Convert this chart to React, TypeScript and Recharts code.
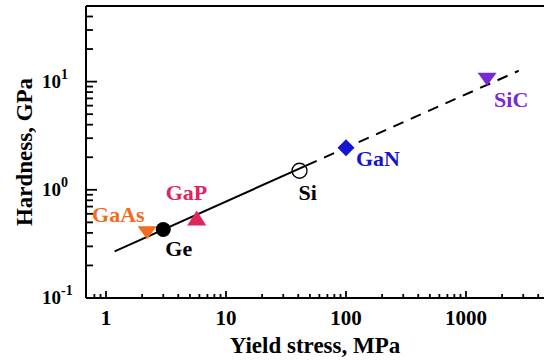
import { ComposedChart, XAxis, YAxis, Scatter, Line, ReferenceLine } from "recharts"

// measured points
const materials = ["GaAs", "Ge", "GaP", "Si", "GaN", "SiC"]
const yieldStress = [2.2, 3, 5.7, 41, 100, 1500]
const hardness = [0.4, 0.43, 0.55, 1.5, 2.45, 10.5]

// fitted trend (solid part, then dashed extrapolation)
const fitSolidX = [1.18, 57]
const fitSolidY = [0.27, 1.85]
const fitDashedX = [57, 2750]
const fitDashedY = [1.85, 12.6]

const xMajorTicks = [1, 10, 100, 1000]
const xMinorTicks = [0.8, 0.9, 2, 3, 4, 5, 6, 7, 8, 9, 20, 30, 40, 50, 60, 70, 80, 90, 200, 300, 400, 500, 600, 700, 800, 900, 2000, 3000, 4000]
const yMajorTicks = [0.1, 1, 10]
const yMajorLabels = ["-1", "0", "1"]
const yMinorTicks = [0.2, 0.3, 0.4, 0.5, 0.6, 0.7, 0.8, 0.9, 2, 3, 4, 5, 6, 7, 8, 9, 20, 30, 40]

const X_DOMAIN = [0.681, 4470]
const Y_DOMAIN = [0.1, 50]

const FONT = "'Liberation Serif', 'Times New Roman', serif"

const points = materials.map((name, i) => ({ name, x: yieldStress[i], y: hardness[i] }))
const solidLine = fitSolidX.map((x, i) => ({ x, y: fitSolidY[i] }))
const dashedLine = fitDashedX.map((x, i) => ({ x, y: fitDashedY[i] }))

const markerStyle: Record<string, { color: string; shape: string; dx: number; dy: number }> = {
  GaAs: { color: "#f26b1f", shape: "down", dx: -55, dy: -11 },
  Ge: { color: "#000000", shape: "dot", dx: 2, dy: 27 },
  GaP: { color: "#e0245c", shape: "up", dx: -31, dy: -18 },
  Si: { color: "#000000", shape: "ring", dx: -1, dy: 29 },
  GaN: { color: "#1414d2", shape: "diamond", dx: 10, dy: 18 },
  SiC: { color: "#7a28d4", shape: "down", dx: 7, dy: 28 },
}

function Marker(props: any) {
  const { cx, cy, payload } = props
  const s = markerStyle[payload.name]
  let mark
  if (s.shape === "down") {
    mark = <polygon points={`${cx - 9.5},${cy - 6.5} ${cx + 9.5},${cy - 6.5} ${cx},${cy + 6.5}`} fill={s.color} />
  } else if (s.shape === "up") {
    mark = <polygon points={`${cx - 9.5},${cy + 7.5} ${cx + 9.5},${cy + 7.5} ${cx},${cy - 7.5}`} fill={s.color} />
  } else if (s.shape === "diamond") {
    mark = <polygon points={`${cx},${cy - 8.5} ${cx + 8.5},${cy} ${cx},${cy + 8.5} ${cx - 8.5},${cy}`} fill={s.color} />
  } else if (s.shape === "ring") {
    mark = <circle cx={cx} cy={cy} r={7.5} fill="none" stroke="#000" strokeWidth={1.3} />
  } else {
    mark = <circle cx={cx} cy={cy} r={7.5} fill={s.color} />
  }
  return (
    <g>
      {mark}
      <text x={cx + s.dx} y={cy + s.dy} fill={s.color} fontSize={22} fontWeight="bold" fontFamily={FONT}>
        {payload.name}
      </text>
    </g>
  )
}

// inward ticks, longer on the decades
function XTick(props: any) {
  const { x, y, payload } = props
  const major = xMajorTicks.includes(payload.value)
  return (
    <g>
      <path d={`M${x},${y}L${x},${y - (major ? 7 : 4)}`} stroke="#000" strokeWidth={1.8} />
      {major && (
        <text x={x} y={y + 27} textAnchor="middle" fontSize={21} fontWeight="bold" fontFamily={FONT} fill="#000">
          {payload.value}
        </text>
      )}
    </g>
  )
}

function YTick(props: any) {
  const { x, y, payload } = props
  const idx = yMajorTicks.indexOf(payload.value)
  const major = idx >= 0
  return (
    <g>
      <path d={`M${x},${y}L${x + (major ? 11 : 7)},${y}`} stroke="#000" strokeWidth={1.8} />
      {major && (
        <text x={x - 44} y={y + 6} fontSize={19} fontWeight="bold" fontFamily={FONT} fill="#000">
          10
          <tspan fontSize={14} dy={-9}>{yMajorLabels[idx]}</tspan>
        </text>
      )}
    </g>
  )
}

function XTitle(props: any) {
  const { x, y, width } = props.viewBox
  return (
    <text x={x + width / 2} y={y + 55} textAnchor="middle" fontSize={23} fontWeight="bold" fontFamily={FONT} fill="#000">
      Yield stress, MPa
    </text>
  )
}

function YTitle(props: any) {
  const { y, height } = props.viewBox
  const cy = y + height / 2
  return (
    <text x={32} y={cy} transform={`rotate(-90 32 ${cy})`} textAnchor="middle" fontSize={23} fontWeight="bold" fontFamily={FONT} fill="#000">
      Hardness, GPa
    </text>
  )
}

export default function App() {
  return (
    <div style={{ position: "absolute", left: 0, top: 0, background: "#fff" }}>
      <ComposedChart width={544} height={363} margin={{ top: 6, right: 0, bottom: 0, left: 0 }}>
        <XAxis
          dataKey="x"
          type="number"
          scale="log"
          domain={X_DOMAIN}
          allowDataOverflow
          ticks={[...xMajorTicks, ...xMinorTicks].sort((a, b) => a - b)}
          interval={0}
          tick={<XTick />}
          tickLine={false}
          tickSize={0}
          tickMargin={0}
          height={65}
          axisLine={{ stroke: "#000", strokeWidth: 2 }}
          label={<XTitle />}
        />
        <YAxis
          dataKey="y"
          type="number"
          scale="log"
          domain={Y_DOMAIN}
          allowDataOverflow
          ticks={[...yMajorTicks, ...yMinorTicks].sort((a, b) => a - b)}
          interval={0}
          tick={<YTick />}
          tickLine={false}
          tickSize={0}
          tickMargin={0}
          width={86}
          axisLine={{ stroke: "#000", strokeWidth: 2 }}
          label={<YTitle />}
        />
        <ReferenceLine y={Y_DOMAIN[1]} stroke="#000" strokeWidth={2} />
        <Scatter data={points} dataKey="y" shape={<Marker />} isAnimationActive={false} />
        <Line data={solidLine} dataKey="y" type="linear" stroke="#000" strokeWidth={2} dot={false} activeDot={false} isAnimationActive={false} />
        <Line
          data={dashedLine}
          dataKey="y"
          type="linear"
          stroke="#000"
          strokeWidth={2}
          strokeDasharray="11 8"
          strokeDashoffset={11}
          dot={false}
          activeDot={false}
          isAnimationActive={false}
        />
      </ComposedChart>
    </div>
  )
}
